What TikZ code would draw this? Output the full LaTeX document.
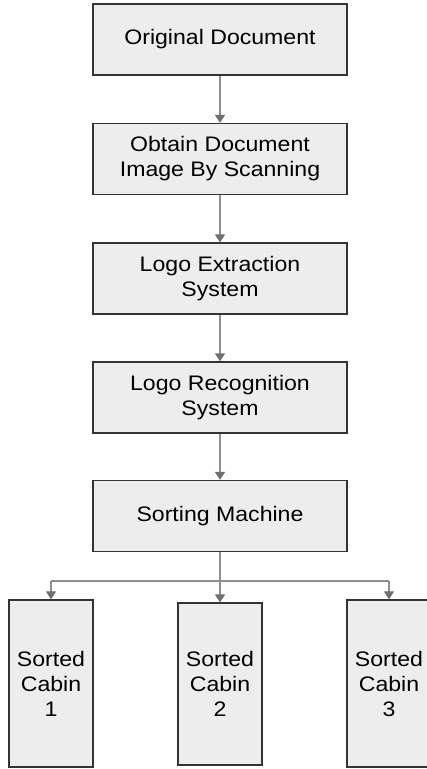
\documentclass[tikz,border=0pt]{standalone}
\usepackage{fontspec}
\setmainfont[FakeStretch=1.1]{Liberation Sans}
\usetikzlibrary{arrows.meta}
\definecolor{boxfill}{HTML}{EDEDED}
\definecolor{boxline}{HTML}{333333}
\definecolor{arrowline}{HTML}{8F8F8F}
\definecolor{tipcol}{HTML}{707070}
\begin{document}
\begin{tikzpicture}[x=1pt,y=-1pt,
  procbox/.style={draw=boxline, fill=boxfill, line width=1.2pt, minimum width=254pt, minimum height=71pt, inner sep=0pt, align=center, font=\fontsize{21}{25}\selectfont},
  cabinbox/.style={procbox, minimum width=84pt, minimum height=167pt},
  flow/.style={draw=arrowline, line width=1.5pt, -{Triangle[width=10pt,length=8pt,color=tipcol]}},
  branch/.style={draw=arrowline, line width=1.1pt}]
\useasboundingbox (0,0) rectangle (427,769);
\clip (0,0) rectangle (427,769);
\node[procbox] (b1) at (220,39.5) {Original Document};
\node[procbox] (b2) at (220,159) {Obtain Document\\Image By Scanning};
\node[procbox] (b3) at (220,278.5) {Logo Extraction\\System};
\node[procbox] (b4) at (220,397.5) {Logo Recognition\\System};
\node[procbox] (b5) at (220,516) {Sorting Machine};
\node[cabinbox] (c1) at (51,683.5) {Sorted\\Cabin\\1};
\node[cabinbox, minimum height=162pt] (c2) at (220,684) {Sorted\\Cabin\\2};
\node[cabinbox] (c3) at (389,683.5) {Sorted\\Cabin\\3};
\coordinate (j) at (220,581);
\draw[flow] (b1) -- (b2);
\draw[flow] (b2) -- (b3);
\draw[flow] (b3) -- (b4);
\draw[flow] (b4) -- (b5);
\draw[flow] (b5) -- (c2);
\draw[branch] (c1.north |- j) -- (c3.north |- j);
\draw[flow, line width=1.1pt] (c1.north |- j) -- (c1.north);
\draw[flow, line width=1.1pt] (c3.north |- j) -- (c3.north);
\end{tikzpicture}
\end{document}
